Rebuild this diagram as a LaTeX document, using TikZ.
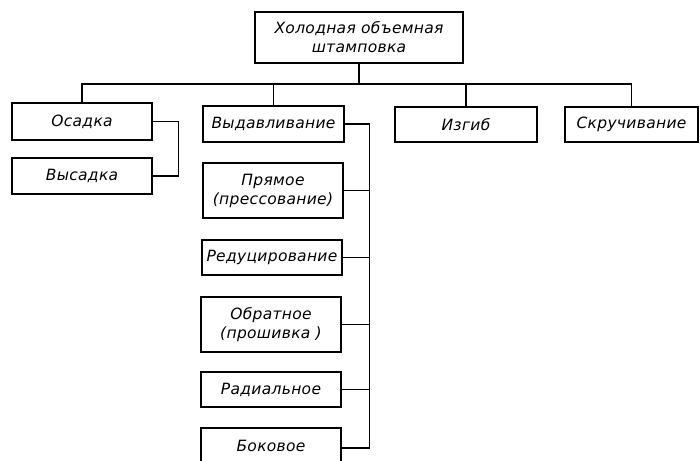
\documentclass[tikz,border=0pt]{standalone}
\usepackage{fontspec}
\setmainfont{DejaVu Sans}[LetterSpace=2]
\begin{document}
\begin{tikzpicture}[x=1pt,y=-1pt,
  box/.style={draw,line width=1.2pt,inner sep=0pt,align=center,
    font=\fontsize{15.5}{19}\selectfont\itshape},
  wire/.style={line width=1.1pt}]
\useasboundingbox (0,0) rectangle (700,460);
\clip (0,0) rectangle (700,460);
\node[box,minimum width=208pt,minimum height=51pt] (top) at (359,37.5) {Холодная объемная\\штамповка};
\node[box,minimum width=140pt,minimum height=37pt] (osadka) at (82,121.5) {Осадка};
\node[box,minimum width=140pt,minimum height=36pt] (vysadka) at (82,176) {Высадка};
\node[box,minimum width=141pt,minimum height=36pt] (vydav) at (273.5,124) {Выдавливание};
\node[box,minimum width=140pt,minimum height=55pt] (pryamoe) at (273,190.5) {Прямое\\(прессование)};
\node[box,minimum width=140pt,minimum height=35pt] (redu) at (272,257.5) {Редуцирование};
\node[box,minimum width=140pt,minimum height=55pt] (obrat) at (271,324.5) {Обратное\\(прошивка )};
\node[box,minimum width=140pt,minimum height=35pt] (radial) at (271,389.5) {Радиальное};
\node[box,minimum width=140pt,minimum height=36pt] (bokovoe) at (271,446) {Боковое};
\node[box,minimum width=142pt,minimum height=35pt] (izgib) at (466,124.5) {Изгиб};
\node[box,minimum width=133pt,minimum height=35pt] (skruch) at (631.5,124.5) {Скручивание};
% bus
\coordinate (bus) at (359,84);
\draw[wire] (top.south) -- (bus);
\draw[wire] (osadka.north) |- (bus) -| (skruch.north);
\draw[wire] (vydav.north) -- (vydav.north |- bus);
\draw[wire] (izgib.north) -- (izgib.north |- bus);
% left pair
\draw[wire] (osadka.east) -- ++(26,0) coordinate (lp) |- (vysadka.east);
% spine
\draw[wire] (vydav.east) -- ++(24.5,0) coordinate (sp) |- ([yshift=-2pt]bokovoe.east);
\draw[wire] (pryamoe.east) -- (pryamoe.east -| sp);
\draw[wire] (redu.east) -- (redu.east -| sp);
\draw[wire] (obrat.east) -- (obrat.east -| sp);
\draw[wire] (radial.east) -- (radial.east -| sp);
\end{tikzpicture}
\end{document}
